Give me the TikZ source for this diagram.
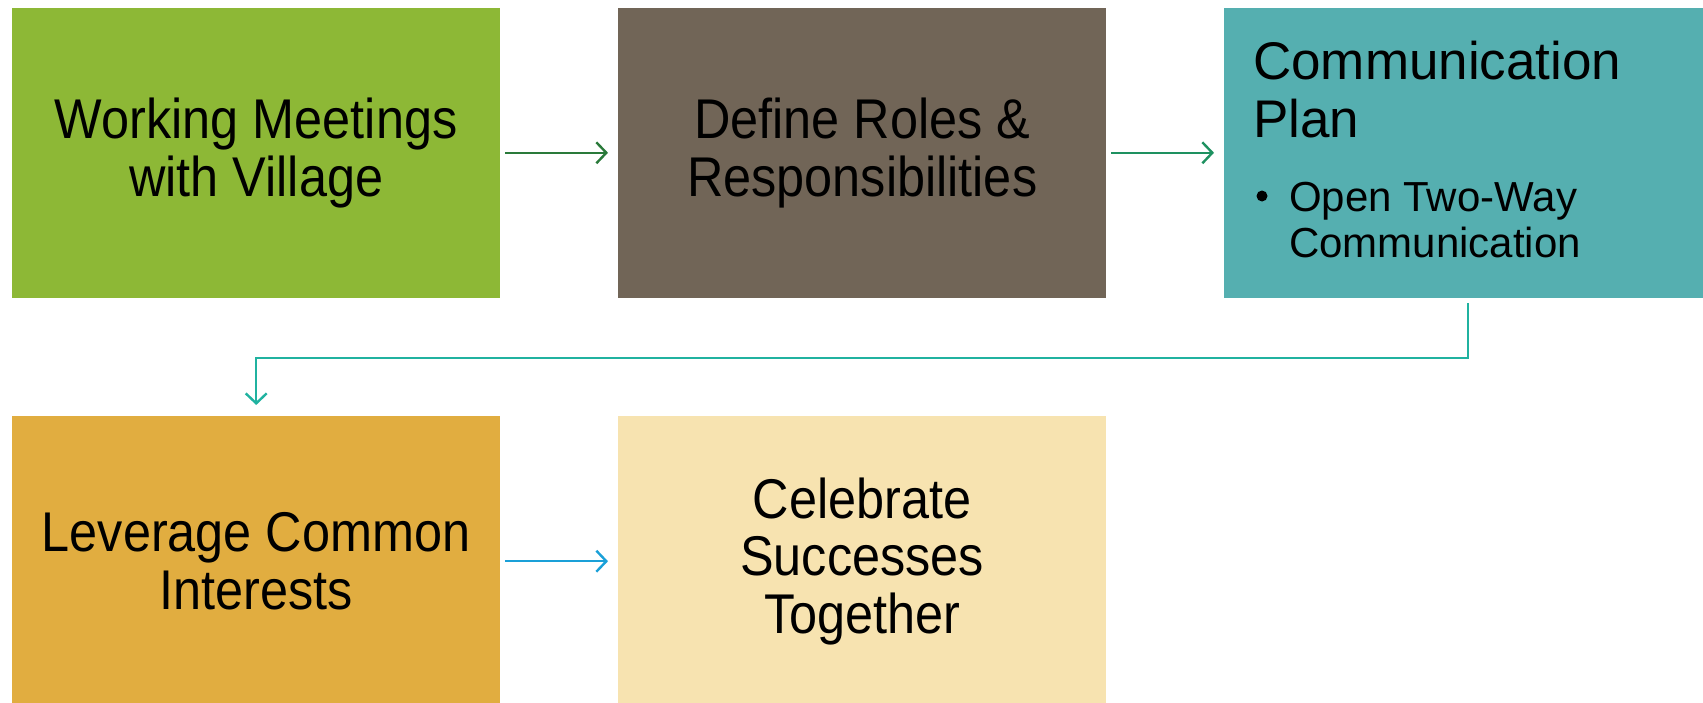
\documentclass[tikz,border=0pt]{standalone}
\usepackage{fontspec}
\setmainfont{Liberation Sans}
\newfontfamily\narrowfont[FakeStretch=0.9]{Liberation Sans}
\usetikzlibrary{arrows.meta}
\definecolor{cgreen}{HTML}{8DB836}
\definecolor{cbrown}{HTML}{716557}
\definecolor{cteal}{HTML}{55AFB0}
\definecolor{cgold}{HTML}{E1AD40}
\definecolor{ccream}{HTML}{F7E3B0}
\definecolor{agreen}{HTML}{2A7A3A}
\definecolor{asea}{HTML}{1E9160}
\definecolor{ateal}{HTML}{20B2A0}
\definecolor{ablue}{HTML}{1AA0D8}
\tikzset{
  stepbox/.style={draw=none, inner sep=0pt, minimum width=488bp, minimum height=290bp,
    align=center, text=black, font=\narrowfont\fontsize{56bp}{57.5bp}\selectfont},
  flowarrow/.style={line width=2.4bp, -{Straight Barb[length=10bp, width=21bp, line width=2.4bp]}},
  titletext/.style={anchor=base west, inner sep=0pt, font=\fontsize{53bp}{57.5bp}\selectfont},
  bullettext/.style={anchor=base west, inner sep=0pt, font=\fontsize{42bp}{44.5bp}\selectfont},
}
\begin{document}
\begin{tikzpicture}[x=1bp, y=-1bp]
\useasboundingbox (0,0) rectangle (1703,703);
\node[stepbox, fill=cgreen, anchor=north west] (b1) at (12,7.6) {Working Meetings\\with Village};
\node[stepbox, fill=cbrown, anchor=north west] (b2) at (618,7.6) {Define Roles \&\\Responsibilities};
\node[stepbox, fill=cteal, anchor=north west] (b3) at (1224,7.6) {};
\node[stepbox, fill=cgold, anchor=north west] (b4) at (12,416) {Leverage Common\\Interests};
\node[stepbox, fill=ccream, anchor=north west] (b5) at (618,416) {Celebrate\\Successes\\Together};
\node[titletext] (t1) at (1253,80) {Communication};
\node[titletext] (t2) at (1253,138) {Plan};
\node[circle, fill=black, inner sep=0pt, minimum size=11bp] (bul) at (1262,196) {};
\node[bullettext] (s1) at (1289,211) {Open Two-Way};
\node[bullettext] (s2) at (1289,257) {Communication};
\draw[flowarrow, draw=agreen, shorten <=5bp, shorten >=10bp] (b1.east) -- (b2.west);
\draw[flowarrow, draw=asea, shorten <=5bp, shorten >=10bp] (b2.east) -- (b3.west);
\draw[flowarrow, draw=ateal, shorten <=5bp, shorten >=11bp] (b3.south) -- ++(0,60) -| (b4.north);
\draw[flowarrow, draw=ablue, shorten <=5bp, shorten >=10bp] (b4.east) -- (b5.west);
\end{tikzpicture}
\end{document}
